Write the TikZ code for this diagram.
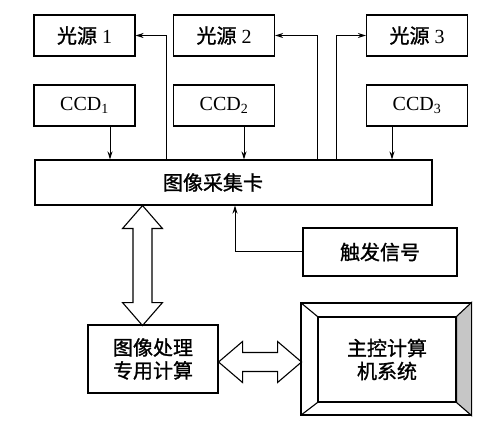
\documentclass[tikz,border=0pt]{standalone}
\usepackage{fontspec}
\setmainfont{Liberation Serif}
\newfontfamily\cjk[FakeBold=1.2]{Noto Sans CJK SC}
\usetikzlibrary{arrows.meta}

\begin{document}
\begin{tikzpicture}[x=1pt, y=-1pt, line width=1.1pt,
  font=\fontsize{20}{23}\selectfont,
  box/.style={draw, minimum width=101pt, minimum height=41pt, inner sep=0pt},
  zh/.style={font=\fontsize{20}{23}\selectfont\cjk},
  sig/.style={-{Stealth[length=8pt, width=5pt]}, line width=1pt},
  fat/.style={draw, line width=1.1pt, line join=miter}]
  \useasboundingbox (0,0) rectangle (500,427);

  % light sources and cameras
  \node[box] (ls1) at (84.5,35.5) {{\cjk 光源} 1};
  \node[box] (ls2) at (224,35.5) {{\cjk 光源} 2};
  \node[box] (ls3) at (417,35.5) {{\cjk 光源} 3};
  \node[box] (ccd1) at (84.5,105.5) {CCD\textsubscript{1}};
  \node[box] (ccd2) at (224,105.5) {CCD\textsubscript{2}};
  \node[box] (ccd3) at (417,105.5) {CCD\textsubscript{3}};

  \node[box, minimum width=397pt, minimum height=45pt] (card) at (233.5,182.5) {};
  \node[zh] (cardtext) at (213,182.5) {图像采集卡};
  \node[box, zh, minimum width=154pt, minimum height=48pt] (trig) at (380,252) {触发信号};
  \node[box, zh, minimum width=130pt, minimum height=68pt, align=center] (proc) at (153,359) {图像处理\\专用计算};

  % host with bevelled frame
  \node[draw, minimum width=170pt, minimum height=112pt] (host) at (386,359) {};
  \node[draw, zh, minimum width=138pt, minimum height=85pt, align=center] (hostin) at (387,359.5) {主控计算\\机系统};
  \draw[fill=gray!45] (host.north east) -- (host.south east) -- (hostin.south east) -- (hostin.north east) -- cycle;
  \draw (host.north west) -- (hostin.north west);
  \draw (host.south west) -- (hostin.south west);

  \foreach \n/\dx in {1/25.5, 2/20, 3/-25}
    \draw[sig] ([xshift=\dx pt]ccd\n.south) -- ([xshift=\dx pt]ccd\n.south |- card.north);
  \draw[sig] ([xshift=-67.5pt]card.north) |- (ls1.east);
  \draw[sig] ([xshift=83.5pt]card.north) |- (ls2.east);
  \draw[sig] ([xshift=102.5pt]card.north) |- (ls3.west);
  \draw[sig] (trig.west) -| ([xshift=1.5pt]card.south);

  % wide double arrows
  \draw[fat] ([xshift=-91pt]card.south) -- ++(20,23) -- ++(-10.5,0) -- ++(0,74) -- ++(10.5,0)
    -- ++(-20,23) -- ++(-20,-23) -- ++(10.5,0) -- ++(0,-74) -- ++(-10.5,0) -- cycle;
  \draw[fat] ([yshift=-3pt]proc.east) -- ++(24,-20.5) -- ++(0,11) -- ++(35,0) -- ++(0,-11)
    -- ++(24,20.5) -- ++(-24,20.5) -- ++(0,-11) -- ++(-35,0) -- ++(0,11) -- cycle;
\end{tikzpicture}
\end{document}
